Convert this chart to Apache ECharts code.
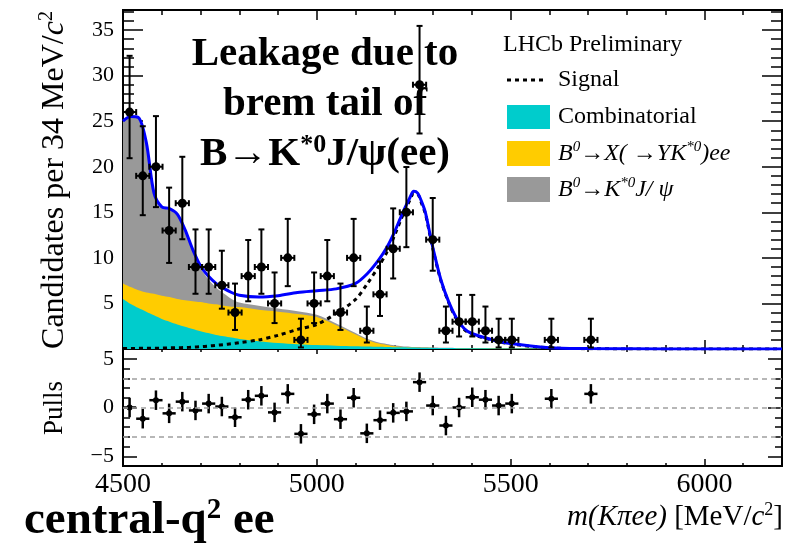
<!DOCTYPE html>
<html><head><meta charset="utf-8">
<script src="https://cdn.jsdelivr.net/npm/echarts@6/dist/echarts.min.js"></script>
<style>html,body{margin:0;padding:0;background:#fff}#c{width:793px;height:546px}</style>
</head><body><div id="c"></div><script>
// ---- data ----
const binCentres = [4517,4551,4585,4619,4653,4687,4721,4755,4789,4823,4857,4891,4925,4959,4993,5027,5061,5095,5129,5163,5197,5231,5265,5299,5333,5367,5401,5435,5469,5503,5605,5707];
const counts = [26,19,20,13,16,9,9,7,4,8,9,5,10,1,5,8,4,10,2,6,11,15,29,12,2,3,3,2,1,1,1,1];
const pulls = [0.0,-1.15,0.75,-0.6,0.6,-0.3,0.4,0.1,-1.0,0.8,1.2,-0.5,1.4,-2.7,-0.7,0.4,-1.2,1.0,-2.65,-1.3,-0.55,-0.4,2.6,0.2,-1.85,0.0,1.05,0.8,0.2,0.4,0.9,1.4];
const halfBin = 17;

const massPts = [4500,4520,4540,4560,4580,4600,4620,4640,4660,4680,4700,4720,4740,4760,4780,4800,4850,4900,4950,5000,5050,5100,5130,5160,5180,5200,5220,5240,5250,5260,5270,5280,5290,5300,5320,5340,5360,5380,5400,5450,5500,5600,5700,5800,6000,6200];
const combinatorial = [5.5,4.95,4.5,4.1,3.7,3.3,3.0,2.7,2.45,2.2,1.95,1.75,1.55,1.4,1.25,1.1,0.85,0.65,0.52,0.43,0.36,0.3,0.27,0.24,0.22,0.2,0.18,0.16,0.155,0.15,0.14,0.13,0.13,0.12,0.11,0.1,0.09,0.08,0.07,0.06,0.05,0.03,0.02,0.01,0,0];
const partReco = [1.7,1.85,1.95,2.1,2.35,2.55,2.7,2.8,2.9,3.05,3.2,3.25,3.35,3.35,3.4,3.5,3.45,3.45,3.33,3.07,2.24,1.3,0.73,0.36,0.23,0.1,0.04,0.01,0,0,0,0,0,0,0,0,0,0,0,0,0,0,0,0,0,0];
const jpsiLeak = [17.75,18.65,18.9,16.55,10.95,9.65,9.55,9.15,7.55,5.45,3.7,2.65,1.85,1.35,0.85,0.5,0.45,0.35,0.3,0.25,0.2,0.15,0.12,0.1,0.1,0.1,0.08,0.08,0.07,0.07,0.06,0.05,0.04,0.04,0.03,0.03,0.02,0.02,0.02,0.01,0.01,0,0,0,0,0];
const signal = [0.05,0.06,0.07,0.08,0.09,0.1,0.12,0.14,0.16,0.2,0.25,0.32,0.4,0.48,0.58,0.7,1.0,1.5,2.15,2.7,3.9,5.45,7.15,9.1,10.55,12.4,14.5,16.35,17.05,17.0,16.0,14.85,12.85,10.85,7.5,5.1,3.3,2.15,1.6,1.0,0.55,0.12,0.03,0.01,0,0];
const totalFit = [25.0,25.5,25.4,22.7,17.1,15.6,15.4,14.8,13.1,10.9,9.1,8.0,7.2,6.65,6.2,5.9,5.7,5.85,6.2,6.4,6.6,7.2,8.25,9.8,11.1,12.8,14.8,16.6,17.3,17.1,16.2,15.0,13.0,11.0,7.6,5.2,3.4,2.25,1.7,1.05,0.6,0.15,0.05,0.02,0,0];

const xTickLabels = [4500,5000,5500,6000];
const yTopTickLabels = [5,10,15,20,25,30,35];
const pullTickLabels = [-5,0,5];
const pullRefLines = [3,0,-3];

// ---- helpers ----
const FONT = 'Liberation Serif';
function poissonErr(n){ // Gehrels approx. of the 68% Poisson interval
  const hi = n + Math.sqrt(n + 0.75) + 1;
  const lo = n > 0 ? n * Math.pow(1 - 1/(9*n) - 1/(3*Math.sqrt(n)), 3) : 0;
  return [lo, hi];
}
const pointData = binCentres.map((x,i)=>{const e=poissonErr(counts[i]);return [x,counts[i],e[0],e[1]];});
const pullData = binCentres.map((x,i)=>[x,pulls[i]]);
// stacked envelopes of the background components (drawn back to front)
const stackTop = comps => massPts.map((m,i)=>[m, comps.reduce((s,a)=>s+a[i],0)]);
const zip = arr => massPts.map((m,i)=>[m,arr[i]]);

function renderErr(withBars, r, lw){
  return function(params, api){
    const x = api.value(0), y = api.value(1);
    const lo = withBars ? api.value(2) : y - 1, hi = withBars ? api.value(3) : y + 1;
    const c = api.coord([x,y]);
    const l = api.coord([x-halfBin,y]), rr = api.coord([x+halfBin,y]);
    const t = api.coord([x,hi]), b = api.coord([x,lo]);
    const st = {stroke:'#000', lineWidth:lw};
    const cap = withBars ? 3 : 0;
    const ch = [
      {type:'line', shape:{x1:c[0],y1:t[1],x2:c[0],y2:b[1]}, style:st},
      {type:'line', shape:{x1:l[0],y1:c[1],x2:rr[0],y2:c[1]}, style:st},
      {type:'circle', shape:{cx:c[0],cy:c[1],r:r}, style:{fill:'#000'}}
    ];
    if (cap){
      ch.push({type:'line', shape:{x1:c[0]-cap,y1:t[1],x2:c[0]+cap,y2:t[1]}, style:st});
      ch.push({type:'line', shape:{x1:c[0]-cap,y1:b[1],x2:c[0]+cap,y2:b[1]}, style:st});
      ch.push({type:'line', shape:{x1:l[0],y1:c[1]-cap,x2:l[0],y2:c[1]+cap}, style:st});
      ch.push({type:'line', shape:{x1:rr[0],y1:c[1]-cap,x2:rr[0],y2:c[1]+cap}, style:st});
    }
    return {type:'group', children:ch};
  };
}

function xAx(grid, pos, interval, len, labels){
  return {type:'value', gridIndex:grid, position:pos, min:4500, max:6200, interval:interval,
    axisLine:{show:true, onZero:false, lineStyle:{color:'#000', width:2}},
    axisTick:{show:true, inside:true, length:len, lineStyle:{color:'#000', width:1.5}},
    axisLabel:{show:!!labels, margin:5, fontFamily:FONT, fontSize:28, color:'#000',
      formatter:v=> xTickLabels.includes(v) ? String(v) : ''},
    splitLine:{show:false}};
}
function yAx(grid, pos, opts, len, labels){
  return Object.assign({type:'value', gridIndex:grid, position:pos,
    axisLine:{show:true, onZero:false, lineStyle:{color:'#000', width:2}},
    axisTick:{show:true, inside:true, length:len, lineStyle:{color:'#000', width:1.5}},
    axisLabel:{show:!!labels, margin:9, fontFamily:FONT, fontSize:22, color:'#000',
      formatter: labels || (()=>'')},
    splitLine:{show:false}}, opts);
}
const topFmt = v => yTopTickLabels.includes(v) ? String(v) : '';
const pullFmt = v => pullTickLabels.includes(v) ? (v<0 ? '\u2212'+Math.abs(v) : String(v)) : '';
const topMaj = {min:0, max:37.2, interval:5};
const topMin = {min:0, max:37.2, interval:1};
const pMaj = {min:-6, max:6, splitNumber:2};
const pMin = {min:-6, max:6, interval:1};

function areaSeries(data, color){
  return {type:'line', xAxisIndex:0, yAxisIndex:0, data:data, smooth:0.3, symbol:'none',
    lineStyle:{width:0, color:color}, itemStyle:{color:color}, areaStyle:{color:color, opacity:1, origin:'start'}, z:1};
}

const option = {
  animation:false,
  backgroundColor:'#fff',
  grid:[{left:123, top:10, width:659, height:339},{left:123, top:349, width:659, height:117}],
  xAxis:[
    xAx(0,'bottom',500,9), xAx(0,'bottom',100,4), xAx(0,'top',500,10), xAx(0,'top',100,5),
    xAx(1,'bottom',500,7,true), xAx(1,'bottom',100,3), xAx(1,'top',500,5), xAx(1,'top',100,3)
  ],
  yAxis:[
    yAx(0,'left',topMaj,20,topFmt), yAx(0,'left',topMin,11), yAx(0,'right',topMaj,20), yAx(0,'right',topMin,11),
    yAx(1,'left',pMaj,14,pullFmt), yAx(1,'left',pMin,7), yAx(1,'right',pMaj,14), yAx(1,'right',pMin,7)
  ],
  series:[
    areaSeries(stackTop([combinatorial, partReco, jpsiLeak]), '#999999'),
    areaSeries(stackTop([combinatorial, partReco]), '#ffcc00'),
    areaSeries(stackTop([combinatorial]), '#00cccc'),
    {type:'line', xAxisIndex:0, yAxisIndex:0, data:zip(signal), smooth:0.3, symbol:'none',
      lineStyle:{color:'#000', width:3, type:[4,4]}, z:2},
    {type:'line', xAxisIndex:0, yAxisIndex:0, data:zip(totalFit), smooth:0.3, symbol:'none',
      lineStyle:{color:'#0000ff', width:3}, z:3},
    {type:'custom', xAxisIndex:0, yAxisIndex:0, data:pointData, encode:{x:0,y:1},
      renderItem:renderErr(true,4.5,2), z:4, clip:false},
    {type:'custom', xAxisIndex:4, yAxisIndex:4, data:pullData, encode:{x:0,y:1},
      renderItem:renderErr(false,3,2.5), z:4,
      markLine:{silent:true, symbol:'none', label:{show:false}, animation:false,
        lineStyle:{color:'#a0a0a0', type:[5,4], width:1.5},
        data: pullRefLines.map(v=>({yAxis:v}))}}
  ],
  graphic:[
    {type:'text', x:325, y:54, style:{text:'Leakage due to', font:'bold 41px "Liberation Serif"', fill:'#000', align:'center', verticalAlign:'middle'}},
    {type:'text', x:325, y:104, style:{text:'brem tail of', font:'bold 41px "Liberation Serif"', fill:'#000', align:'center', verticalAlign:'middle'}},
    {type:'text', x:325, y:154, style:{text:'{n|B\u2192K}{s|*0}{n|J/\u03c8(ee)}', align:'center', verticalAlign:'middle', fill:'#000',
      rich:{n:{fontFamily:FONT, fontWeight:'bold', fontSize:41, lineHeight:44, verticalAlign:'middle'},
            s:{fontFamily:FONT, fontWeight:'bold', fontSize:26, lineHeight:44, verticalAlign:'top'}}}},
    {type:'text', x:503, y:45, style:{text:'LHCb Preliminary', font:'24px "Liberation Serif"', fill:'#000', align:'left', verticalAlign:'middle'}},
    {type:'line', shape:{x1:507,y1:80,x2:547,y2:80}, style:{stroke:'#000', lineWidth:3, lineDash:[4,4]}},
    {type:'text', x:558, y:80, style:{text:'Signal', font:'24px "Liberation Serif"', fill:'#000', align:'left', verticalAlign:'middle'}},
    {type:'rect', shape:{x:507,y:105,width:43,height:24}, style:{fill:'#00cccc'}},
    {type:'text', x:558, y:117, style:{text:'Combinatorial', font:'24px "Liberation Serif"', fill:'#000', align:'left', verticalAlign:'middle'}},
    {type:'rect', shape:{x:507,y:141,width:43,height:25}, style:{fill:'#ffcc00'}},
    {type:'text', x:558, y:154, style:{text:'{n|B}{s|0}{n|\u2192X( \u2192YK}{s|*0}{n|)ee}', fill:'#000', align:'left', verticalAlign:'middle',
      rich:{n:{fontFamily:FONT, fontStyle:'italic', fontSize:24, lineHeight:28, verticalAlign:'middle'},
            s:{fontFamily:FONT, fontStyle:'italic', fontSize:15, lineHeight:28, verticalAlign:'top'}}}},
    {type:'rect', shape:{x:507,y:177,width:43,height:25}, style:{fill:'#999999'}},
    {type:'text', x:558, y:190, style:{text:'{n|B}{s|0}{n|\u2192K}{s|*0}{n|J/ \u03c8}', fill:'#000', align:'left', verticalAlign:'middle',
      rich:{n:{fontFamily:FONT, fontStyle:'italic', fontSize:24, lineHeight:28, verticalAlign:'middle'},
            s:{fontFamily:FONT, fontStyle:'italic', fontSize:15, lineHeight:28, verticalAlign:'top'}}}},
    {type:'text', x:55, y:180, rotation:Math.PI/2, style:{text:'{n|Candidates per 34 MeV/}{i|c}{s|2}', fill:'#000', align:'center', verticalAlign:'middle',
      rich:{n:{fontFamily:FONT, fontSize:32, lineHeight:36, verticalAlign:'middle'},
            i:{fontFamily:FONT, fontStyle:'italic', fontSize:32, lineHeight:36, verticalAlign:'middle'},
            s:{fontFamily:FONT, fontSize:20, lineHeight:36, verticalAlign:'top'}}}},
    {type:'text', x:55, y:408, rotation:Math.PI/2, style:{text:'Pulls', font:'27px "Liberation Serif"', fill:'#000', align:'center', verticalAlign:'middle'}},
    {type:'text', x:783, y:517, style:{text:'{i|m(K\u03c0ee)}{n| [MeV/}{i|c}{s|2}{n|]}', fill:'#000', align:'right', verticalAlign:'middle',
      rich:{n:{fontFamily:FONT, fontSize:29, lineHeight:32, verticalAlign:'middle'},
            i:{fontFamily:FONT, fontStyle:'italic', fontSize:29, lineHeight:32, verticalAlign:'middle'},
            s:{fontFamily:FONT, fontSize:18, lineHeight:32, verticalAlign:'top'}}}},
    {type:'text', x:24, y:521, style:{text:'{n|central-q}{s|2}{n| ee}', fill:'#000', align:'left', verticalAlign:'middle',
      rich:{n:{fontFamily:FONT, fontWeight:'bold', fontSize:47, lineHeight:50, verticalAlign:'middle'},
            s:{fontFamily:FONT, fontWeight:'bold', fontSize:29, lineHeight:50, verticalAlign:'top'}}}}
  ]
};
const chart = echarts.init(document.getElementById('c'), null, {renderer:'canvas', width:793, height:546});
chart.setOption(option);
</script></body></html>
